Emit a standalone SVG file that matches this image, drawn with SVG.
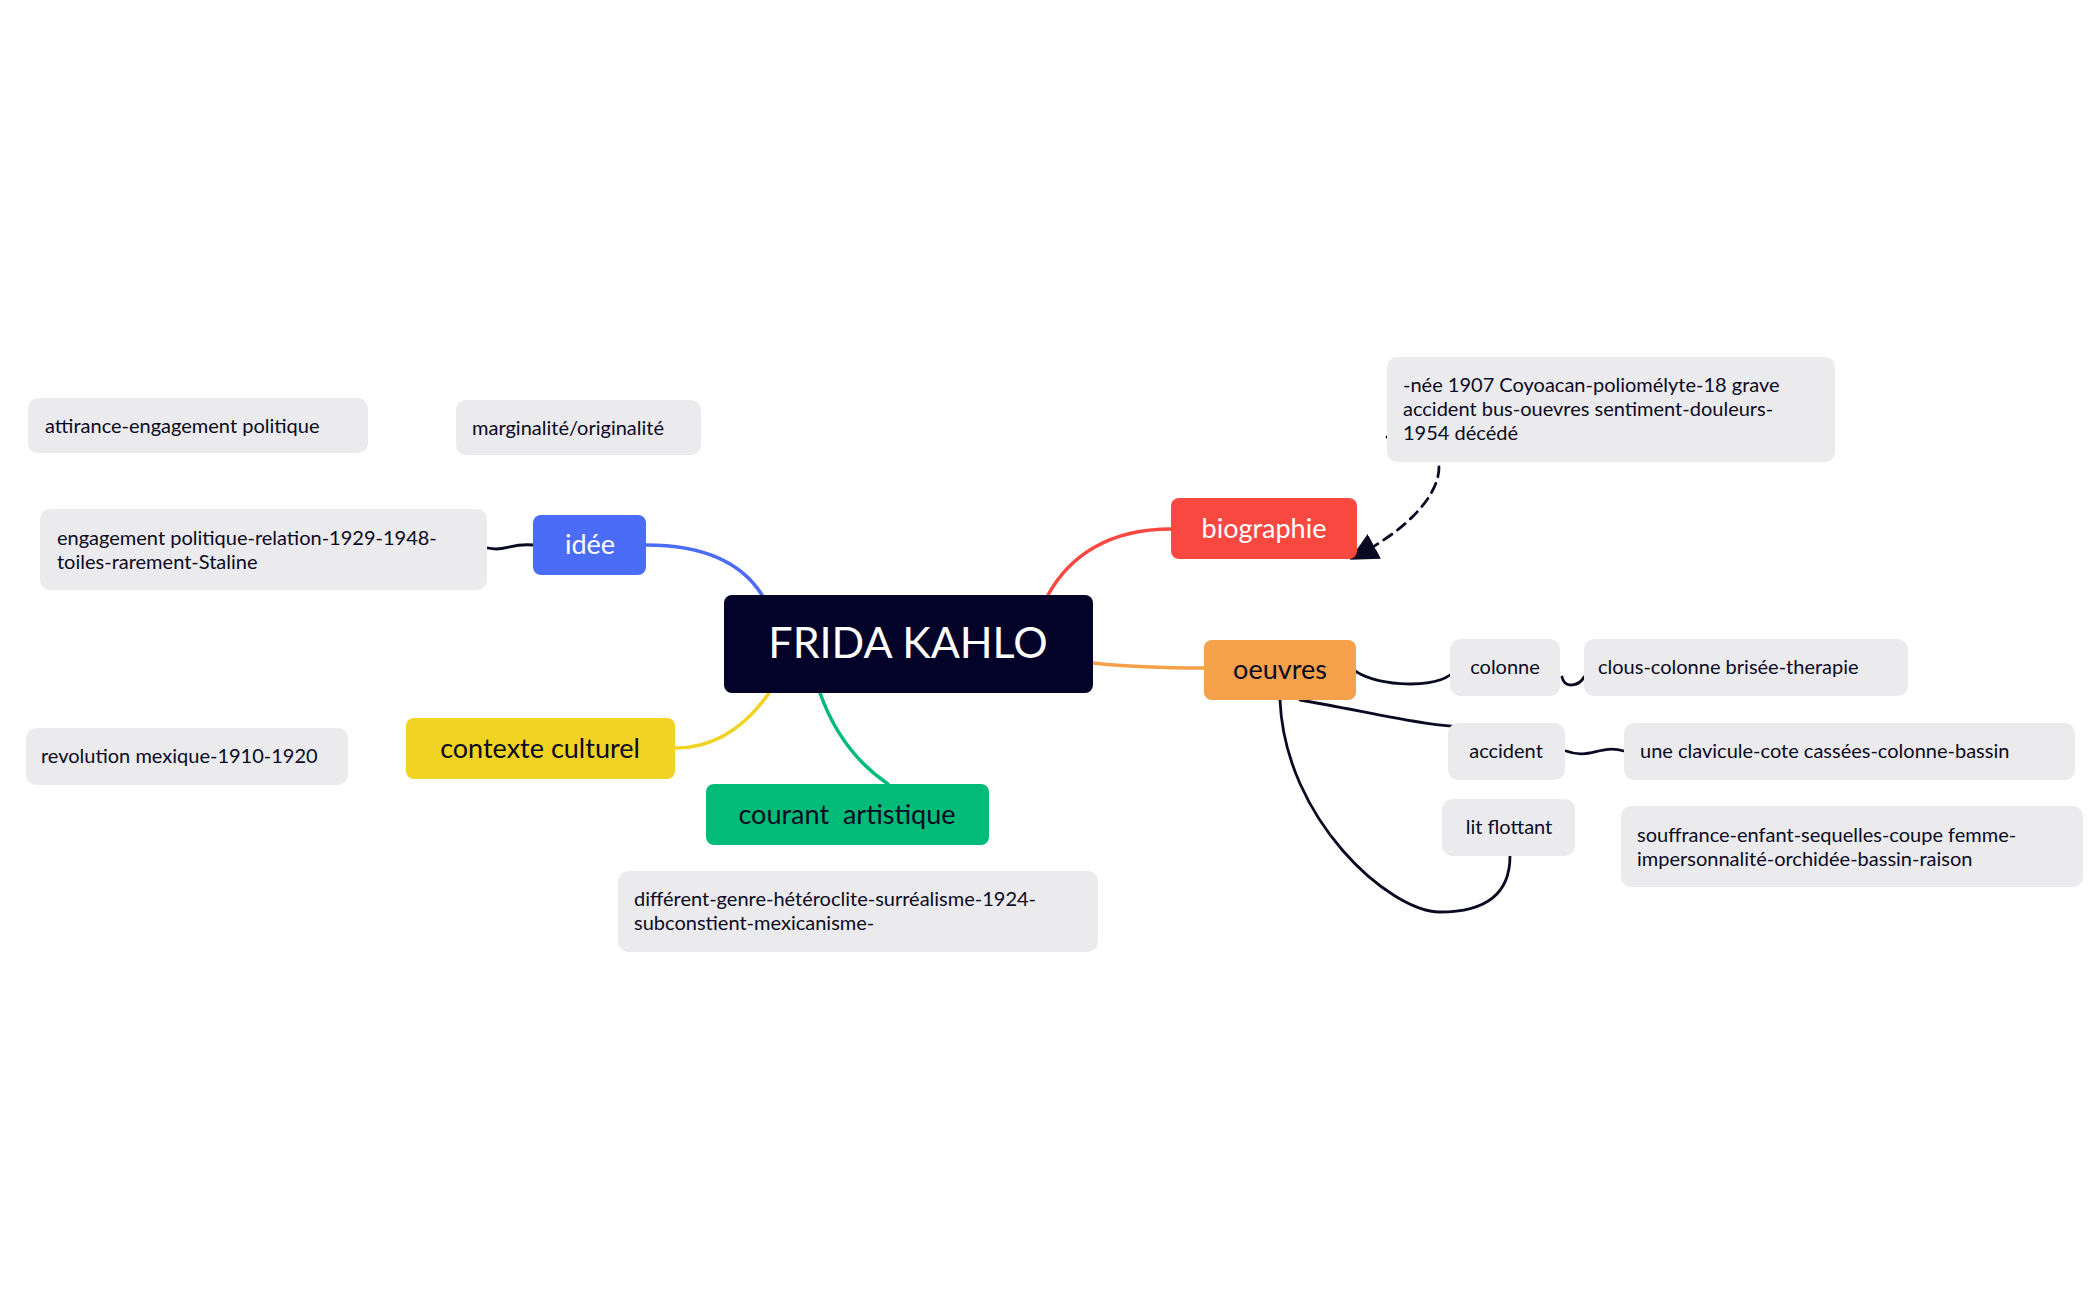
<svg xmlns="http://www.w3.org/2000/svg" width="2099" height="1300" viewBox="0 0 2099 1300">
<style>
.n{fill:#ebeaed}
.t{font-family:Lato,"Liberation Sans",sans-serif;font-size:20px;fill:#0a0a23}
.b{font-family:Lato,"Liberation Sans",sans-serif;font-size:27px}
.c{fill:none;stroke-width:3.5;stroke-linecap:round}
.k{fill:none;stroke:#0a0a23;stroke-width:2.8;stroke-linecap:round}
</style>
<defs><marker id="ar" markerWidth="10" markerHeight="10" refX="5" refY="5" orient="auto"><path d="M0,0 L10,5 L0,10 z" fill="#0a0a23"/></marker></defs>
<rect width="2099" height="1300" fill="#fff"/>
<g id="connectors">
<path class="c" stroke="#4a6cf7" d="M646,545 C700,545 740,560 762,595"/>
<path class="c" stroke="#f84840" d="M1171,529 C1110,529 1070,555 1048,595"/>
<path class="c" stroke="#f5a04a" d="M1093,663 C1130,667 1170,668 1204,668"/>
<path class="c" stroke="#f0d323" d="M675,748 C720,748 750,720 769,693"/>
<path class="c" stroke="#02bb78" d="M820,693 C835,735 860,765 888,784"/>
<path class="k" d="M488,548 C505,552 510,543 533,545"/>
<path class="k" stroke-dasharray="10,7" marker-end="url(#ar)" d="M1387,437 C1460,430 1460,500 1362,553"/>
<path class="k" d="M1353,669 C1370,685 1430,690 1450,675"/>
<path class="k" d="M1562,677 C1565,690 1580,685 1584,677"/>
<path class="k" d="M1300,700 C1370,712 1440,730 1473,726"/>
<path class="k" d="M1566,751 C1590,760 1600,744 1624,751"/>
<path class="k" d="M1280,700 C1285,820 1390,912 1440,912 C1490,912 1510,890 1510,856"/>
</g>
<g id="frida"><rect x="724" y="595" width="369" height="98" rx="8" fill="#03032a"/><text x="908" y="658" text-anchor="middle" font-family="Lato,'Liberation Sans',sans-serif" font-size="43" fill="#fff">FRIDA KAHLO</text></g>
<g id="idee"><rect x="533" y="515" width="113" height="60" rx="8" fill="#4a6cf7"/><text class="b" x="590" y="554" text-anchor="middle" fill="#fff">idée</text></g>
<g id="biographie"><rect x="1171" y="498" width="186" height="61" rx="8" fill="#f84840"/><text class="b" x="1264" y="538" text-anchor="middle" fill="#fff">biographie</text></g>
<g id="oeuvres"><rect x="1204" y="640" width="152" height="60" rx="8" fill="#f5a04a"/><text class="b" x="1280" y="679" text-anchor="middle" fill="#0a0a23">oeuvres</text></g>
<g id="contexte"><rect x="406" y="718" width="269" height="61" rx="8" fill="#f0d323"/><text class="b" x="540" y="758" text-anchor="middle" fill="#0a0a23">contexte culturel</text></g>
<g id="courant"><rect x="706" y="784" width="283" height="61" rx="8" fill="#02bb78"/><text class="b" x="847" y="824" text-anchor="middle" fill="#0a0a23" xml:space="preserve">courant  artistique</text></g>
<g id="attirance"><rect class="n" x="28" y="398" width="340" height="55" rx="10"/><text class="t" x="45" y="433">attirance-engagement politique</text></g>
<g id="marginalite"><rect class="n" x="456" y="400" width="245" height="55" rx="10"/><text class="t" x="472" y="435">marginalité/originalité</text></g>
<g id="engagement"><rect class="n" x="40" y="509" width="447" height="81" rx="10"/><text class="t" x="57" y="545">engagement politique-relation-1929-1948-</text><text class="t" x="57" y="569">toiles-rarement-Staline</text></g>
<g id="revolution"><rect class="n" x="26" y="728" width="322" height="57" rx="10"/><text class="t" x="41" y="763">revolution mexique-1910-1920</text></g>
<g id="different"><rect class="n" x="618" y="871" width="480" height="81" rx="10"/><text class="t" x="634" y="906">différent-genre-hétéroclite-surréalisme-1924-</text><text class="t" x="634" y="930">subconstient-mexicanisme-</text></g>
<g id="nee"><rect class="n" x="1387" y="357" width="448" height="105" rx="10"/><text class="t" x="1403" y="392">-née 1907 Coyoacan-poliomélyte-18 grave</text><text class="t" x="1403" y="416">accident bus-ouevres sentiment-douleurs-</text><text class="t" x="1403" y="440">1954 décédé</text></g>
<g id="colonne"><rect class="n" x="1450" y="639" width="110" height="57" rx="10"/><text class="t" x="1505" y="674" text-anchor="middle">colonne</text></g>
<g id="clous"><rect class="n" x="1584" y="639" width="324" height="57" rx="10"/><text class="t" x="1598" y="674">clous-colonne brisée-therapie</text></g>
<g id="accident"><rect class="n" x="1448" y="723" width="117" height="57" rx="10"/><text class="t" x="1506" y="758" text-anchor="middle">accident</text></g>
<g id="clavicule"><rect class="n" x="1624" y="723" width="451" height="57" rx="10"/><text class="t" x="1640" y="758">une clavicule-cote cassées-colonne-bassin</text></g>
<g id="lit"><rect class="n" x="1442" y="799" width="133" height="57" rx="10"/><text class="t" x="1509" y="834" text-anchor="middle">lit flottant</text></g>
<g id="souffrance"><rect class="n" x="1621" y="806" width="462" height="81" rx="10"/><text class="t" x="1637" y="842">souffrance-enfant-sequelles-coupe femme-</text><text class="t" x="1637" y="866">impersonnalité-orchidée-bassin-raison</text></g>
</svg>
